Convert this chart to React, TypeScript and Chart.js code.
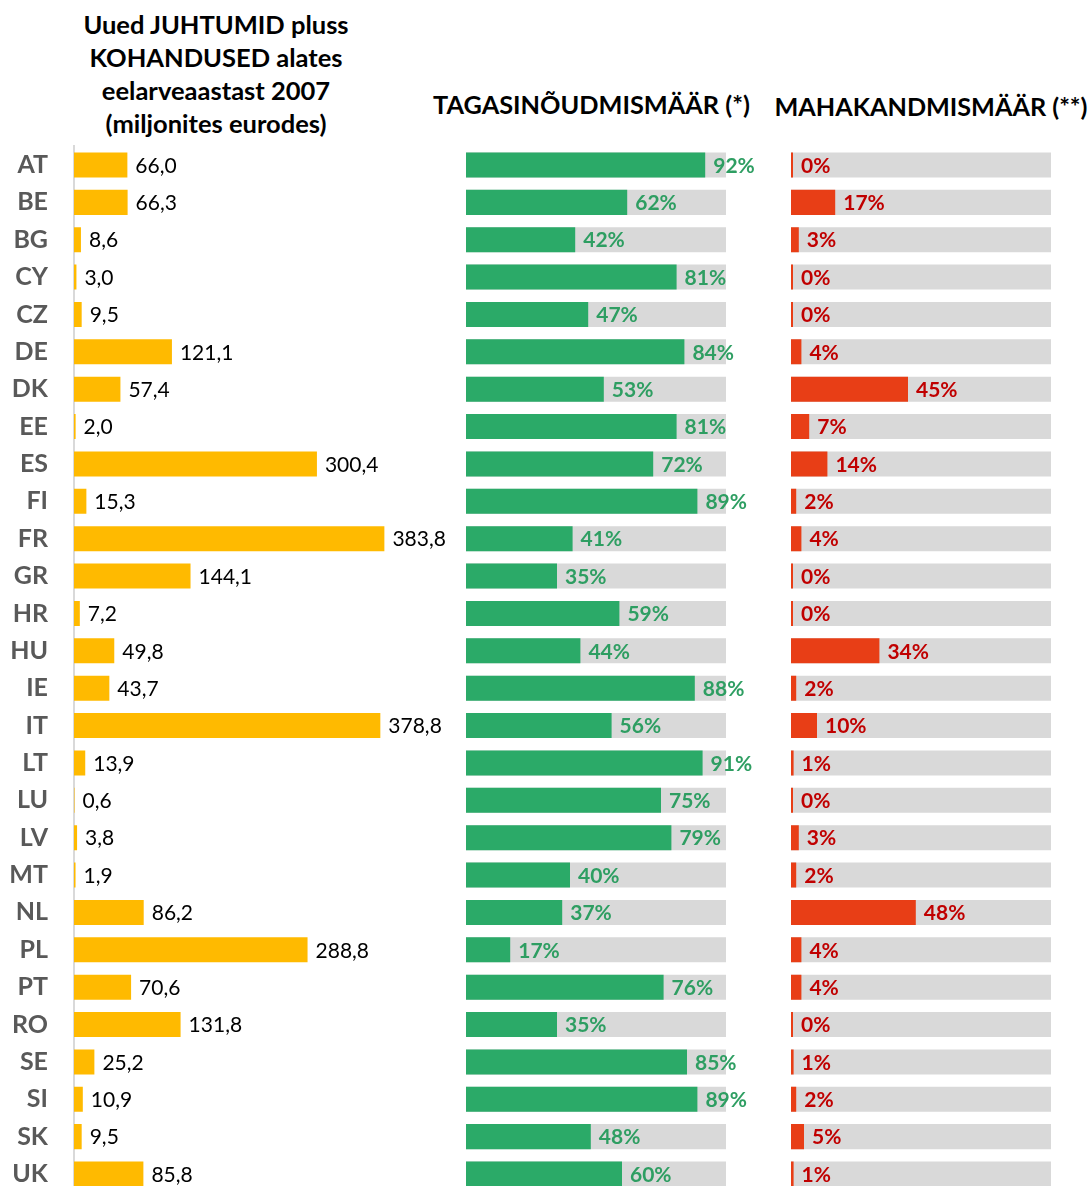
import React, { useEffect, useRef } from "react";
import { Chart, registerables } from "chart.js";

Chart.register(...registerables);

const countries = ["AT", "BE", "BG", "CY", "CZ", "DE", "DK", "EE", "ES", "FI", "FR", "GR", "HR", "HU", "IE", "IT", "LT", "LU", "LV", "MT", "NL", "PL", "PT", "RO", "SE", "SI", "SK", "UK"];
const newCases = [66.0, 66.3, 8.6, 3.0, 9.5, 121.1, 57.4, 2.0, 300.4, 15.3, 383.8, 144.1, 7.2, 49.8, 43.7, 378.8, 13.9, 0.6, 3.8, 1.9, 86.2, 288.8, 70.6, 131.8, 25.2, 10.9, 9.5, 85.8];
const recoveryRate = [92, 62, 42, 81, 47, 84, 53, 81, 72, 89, 41, 35, 59, 44, 88, 56, 91, 75, 79, 40, 37, 17, 76, 35, 85, 89, 48, 60];
const writeOffRate = [0, 17, 3, 0, 0, 4, 45, 7, 14, 2, 4, 0, 0, 34, 2, 10, 1, 0, 3, 2, 48, 4, 4, 0, 1, 2, 5, 1];
const rateMax = 100;
const rateTrack = countries.map(() => rateMax);

const titleLeft = ["Uued JUHTUMID pluss", "KOHANDUSED alates", "eelarveaastast 2007", "(miljonites eurodes)"];
const titleMiddle = "TAGASINÕUDMISMÄÄR (*)";
const titleRight = "MAHAKANDMISMÄÄR (**)";

const FONT = "Lato, 'Open Sans', sans-serif";
const CANVAS_H = 1250;
const PAD_TOP = 146.3;
const PAD_BOTTOM = CANVAS_H - 1192.7;

const valueLabels = {
  id: "valueLabels",
  afterDatasetsDraw(chart: any, _args: any, opts: any) {
    const meta = chart.getDatasetMeta(0);
    const data = chart.data.datasets[0].data as number[];
    const ctx = chart.ctx;
    ctx.save();
    ctx.font = opts.font;
    ctx.fillStyle = opts.color;
    ctx.textAlign = "left";
    ctx.textBaseline = "middle";
    meta.data.forEach((el: any, i: number) => {
      ctx.fillText(opts.format(data[i]), el.x + opts.offset, el.y + 1);
    });
    ctx.restore();
  },
};

function useBarChart(ref: React.RefObject<HTMLCanvasElement | null>, build: () => any) {
  useEffect(() => {
    if (!ref.current) return;
    const chart = new Chart(ref.current, build());
    return () => chart.destroy();
  }, []);
}

const baseBar = { barPercentage: 0.67, categoryPercentage: 1, grouped: false, borderWidth: 0 };

export default function App() {
  const leftRef = useRef<HTMLCanvasElement>(null);
  const midRef = useRef<HTMLCanvasElement>(null);
  const rightRef = useRef<HTMLCanvasElement>(null);

  useBarChart(leftRef, () => ({
    type: "bar",
    data: {
      labels: countries,
      datasets: [{ data: newCases, backgroundColor: "#FFBA00", ...baseBar }],
    },
    plugins: [valueLabels],
    options: {
      indexAxis: "y",
      responsive: false,
      animation: false,
      layout: { padding: { top: PAD_TOP, bottom: PAD_BOTTOM, left: 0, right: 24 } },
      plugins: {
        legend: { display: false },
        tooltip: { enabled: false },
        valueLabels: {
          font: `400 21px ${FONT}`,
          color: "#000000",
          offset: 8,
          format: (v: number) => v.toFixed(1).replace(".", ","),
        },
      },
      scales: {
        x: { display: false, min: 0, max: 460 },
        y: {
          afterFit: (s: any) => { s.width = 74; },
          grid: { display: false, drawTicks: false },
          border: { display: true, color: "#D9D9D9", width: 2 },
          ticks: { color: "#595959", padding: 26, font: { family: FONT, size: 25, weight: "bold" } },
        },
      },
    },
  }));

  const rateChart = (values: number[], color: string, labelColor: string, padL: number, padR: number, minLen: number) => () => ({
    type: "bar",
    data: {
      labels: countries,
      datasets: [
        { data: values, backgroundColor: color, minBarLength: minLen, ...baseBar },
        { data: rateTrack, backgroundColor: "#D9D9D9", ...baseBar },
      ],
    },
    plugins: [valueLabels],
    options: {
      indexAxis: "y",
      responsive: false,
      animation: false,
      layout: { padding: { top: PAD_TOP, bottom: PAD_BOTTOM, left: padL, right: padR } },
      plugins: {
        legend: { display: false },
        tooltip: { enabled: false },
        valueLabels: {
          font: `700 21px ${FONT}`,
          color: labelColor,
          offset: 8,
          format: (v: number) => `${v}%`,
        },
      },
      scales: {
        x: { display: false, min: 0, max: rateMax },
        y: { display: false },
      },
    },
  });

  useBarChart(midRef, rateChart(recoveryRate, "#2BAA68", "#2E9E62", 26, 54, 0));
  useBarChart(rightRef, rateChart(writeOffRate, "#E83E16", "#C00000", 11, 38, 2));

  const titleStyle: React.CSSProperties = {
    position: "absolute",
    fontFamily: FONT,
    fontWeight: 700,
    color: "#000",
    textAlign: "center",
    whiteSpace: "nowrap",
  };

  return (
    <div style={{ position: "absolute", left: 0, top: 0, width: 1089, height: 1186, overflow: "hidden", background: "#fff" }}>
      <div style={{ ...titleStyle, left: 0, width: 432, top: 7.5, fontSize: 25.5, lineHeight: "33px" }}>
        {titleLeft.map((t) => (<div key={t}>{t}</div>))}
      </div>
      <div style={{ ...titleStyle, left: 591.5 - 200, width: 400, top: 104 - 16.5, fontSize: 25.3, lineHeight: "33px" }}>{titleMiddle}</div>
      <div style={{ ...titleStyle, left: 931 - 200, width: 400, top: 106 - 16.5, fontSize: 25.2, lineHeight: "33px" }}>{titleRight}</div>
      <canvas ref={leftRef} width={470} height={CANVAS_H} style={{ position: "absolute", left: 0, top: 0 }} />
      <canvas ref={midRef} width={340} height={CANVAS_H} style={{ position: "absolute", left: 440, top: 0 }} />
      <canvas ref={rightRef} width={309} height={CANVAS_H} style={{ position: "absolute", left: 780, top: 0 }} />
    </div>
  );
}
